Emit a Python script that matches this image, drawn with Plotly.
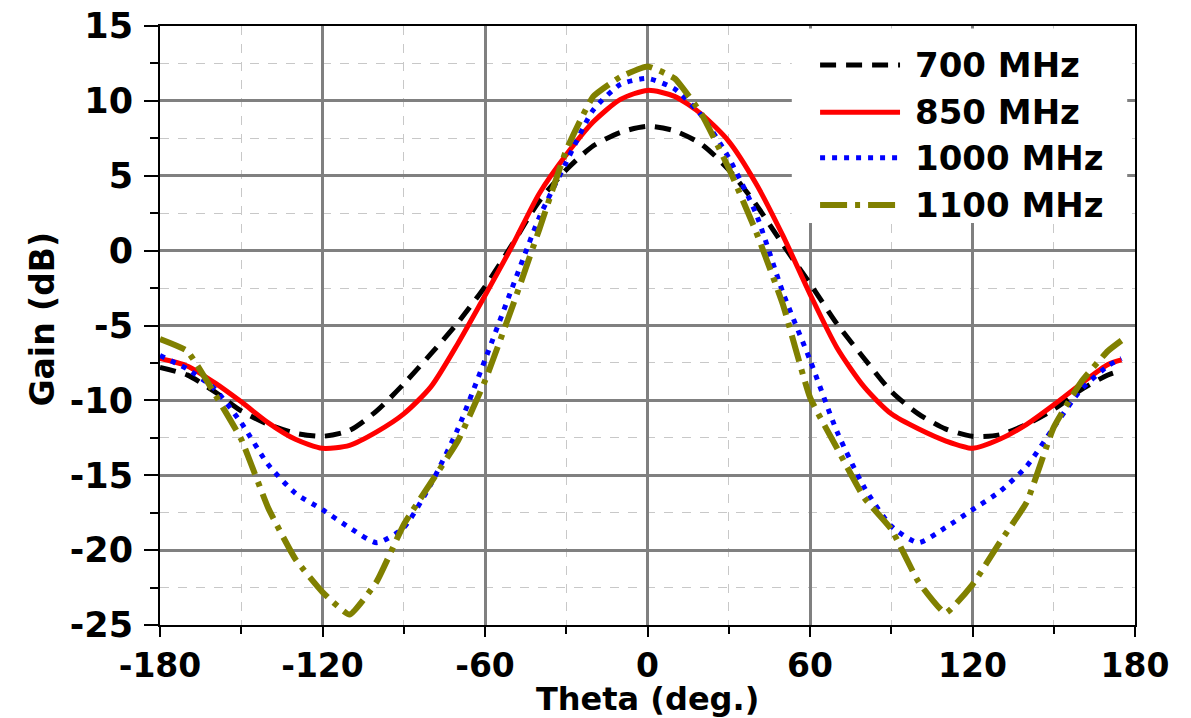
import plotly.graph_objects as go

# Elevation-plane gain patterns at four frequencies
theta = [-180, -170, -160, -150, -140, -130, -120, -110, -100, -90, -80, -70, -60,
         -50, -40, -30, -20, -10, 0, 10, 20, 30, 40, 50, 60, 70, 80, 90, 100,
         110, 120, 130, 140, 150, 160, 170, 175]

gain_700 = [-7.8, -8.3, -9.4, -10.7, -11.6, -12.2, -12.4, -12.0, -10.7, -8.9, -6.9, -4.8, -2.4,
            0.4, 3.3, 5.4, 7.0, 7.9, 8.3, 8.0, 7.1, 5.4, 3.1, 0.4, -2.2, -4.9, -7.2, -9.4, -10.9,
            -11.9, -12.4, -12.3, -11.6, -10.6, -9.3, -8.3, -8.0]

gain_850 = [-7.2, -7.7, -8.8, -10.1, -11.5, -12.6, -13.2, -13.0, -12.1, -10.9, -9.1, -6.2, -3.0,
            0.3, 3.8, 6.4, 8.6, 10.1, 10.7, 10.3, 9.1, 7.3, 4.5, 1.0, -2.9, -6.5, -9.1, -10.9, -11.9,
            -12.7, -13.2, -12.6, -11.6, -10.3, -8.9, -7.6, -7.3]

gain_1000 = [-7.0, -7.9, -9.2, -11.5, -14.3, -16.2, -17.3, -18.5, -19.5, -18.5, -15.6, -11.9, -7.3,
             -2.5, 2.2, 5.9, 9.4, 11.1, 11.5, 10.8, 9.0, 6.2, 2.5, -2.8, -7.3, -12.1, -15.8, -18.4, -19.5,
             -18.5, -17.3, -16.1, -14.4, -11.8, -9.3, -7.7, -7.2]

gain_1100 = [-5.9, -6.7, -9.5, -12.6, -17.2, -20.6, -22.8, -24.3, -22.1, -18.3, -15.5, -12.7, -8.7,
             -3.8, 1.4, 6.7, 10.3, 11.6, 12.3, 11.5, 9.1, 5.5, 1.3, -3.6, -9.8, -13.2, -16.5, -18.6, -22.1,
             -24.2, -22.3, -19.5, -16.8, -11.8, -8.8, -6.7, -6.0]

x_ticks = [-180, -120, -60, 0, 60, 120, 180]
y_ticks = [-25, -20, -15, -10, -5, 0, 5, 10, 15]

series_names = ["700 MHz", "850 MHz", "1000 MHz", "1100 MHz"]
series_colors = ["#000000", "#ff0000", "#0000ff", "#808000"]
series_dash = ["16px,10px", "solid", "5px,7px", "27px,8px,5px,8px"]
series_width = [5, 5, 5, 6]
series_smooth = [0.7, 0.7, 0.6, 0.4]

FONT = "DejaVu Sans"

fig = go.Figure()
for name, g, col, dash, w, sm in zip(series_names,
                                     [gain_700, gain_850, gain_1000, gain_1100],
                                     series_colors, series_dash, series_width, series_smooth):
    fig.add_trace(go.Scatter(
        x=theta, y=g, mode="lines", name=name, showlegend=False,
        line=dict(color=col, width=w, dash=dash, shape="spline", smoothing=sm),
    ))

axis_common = dict(
    automargin=False,
    showline=True, linewidth=2, linecolor="black", mirror=True,
    ticks="outside", tickwidth=2, tickcolor="black",
    showgrid=True, gridcolor="#808080", gridwidth=3,
    zeroline=False,
)

fig.update_xaxes(
    range=[-180, 180], tickmode="array",
    tickvals=x_ticks, ticktext=[str(v) for v in x_ticks], ticklen=10,
    minor=dict(tickmode="linear", tick0=-180, dtick=30, ticklen=7, tickwidth=2, tickcolor="black",
               showgrid=True, gridcolor="#c8c8c8", gridwidth=1, griddash="dash"),
    tickfont=dict(family=FONT, size=33, color="black", weight="bold"),
    **axis_common,
)
fig.update_yaxes(
    range=[-25, 15], tickmode="array",
    tickvals=y_ticks, ticktext=[str(v) for v in y_ticks], ticklen=14,
    minor=dict(tickmode="linear", tick0=-25, dtick=2.5, ticklen=8, tickwidth=2, tickcolor="black",
               showgrid=True, gridcolor="#c8c8c8", gridwidth=1, griddash="dash"),
    ticklabelstandoff=4,
    tickfont=dict(family=FONT, size=35, color="black", weight="bold"),
    **axis_common,
)

# Right-hand axis carrying inward ticks only
fig.update_layout(yaxis2=dict(
    overlaying="y", side="right", range=[-25, 15], tick0=-25, dtick=5,
    ticks="inside", ticklen=6, tickwidth=2, tickcolor="black",
    minor=dict(dtick=2.5, ticks="inside", ticklen=4, tickwidth=1, tickcolor="#888888"),
    showticklabels=False, showgrid=False, zeroline=False, showline=False, automargin=False,
))

title_font_x = dict(family=FONT, size=32, color="black", weight="bold")
title_font_y = dict(family=FONT, size=33, color="black", weight="bold")
annotations = [
    dict(xref="paper", yref="paper", x=0.5, y=-0.124, xanchor="center", yanchor="middle",
         text="Theta (deg.)", showarrow=False, font=title_font_x, borderpad=0),
    dict(xref="paper", yref="paper", x=-0.121, y=0.51, xanchor="center", yanchor="middle",
         text="Gain (dB)", textangle=-90, showarrow=False, font=title_font_y),
]

# Legend panel drawn in paper coordinates
shapes = [dict(type="rect", xref="paper", yref="paper", x0=0.648, x1=0.992, y0=0.671, y1=0.996,
               fillcolor="white", line=dict(width=0), layer="above")]
row_y = [0.935, 0.856, 0.780, 0.701]
for name, col, dash, w, yy in zip(series_names, series_colors, series_dash, series_width, row_y):
    shapes.append(dict(type="line", xref="paper", yref="paper", x0=0.677, x1=0.759, y0=yy, y1=yy,
                       line=dict(color=col, width=w, dash=dash), layer="above"))
    annotations.append(dict(xref="paper", yref="paper", x=0.772, y=yy, xanchor="left", yanchor="middle",
                            text=name, showarrow=False,
                            font=dict(family=FONT, size=34, color="black", weight="bold")))

fig.update_layout(
    width=1191, height=718,
    margin=dict(l=160, r=56, t=26, b=93),
    paper_bgcolor="white", plot_bgcolor="white",
    shapes=shapes, annotations=annotations,
    showlegend=False,
)

fig.write_html("out.html")
